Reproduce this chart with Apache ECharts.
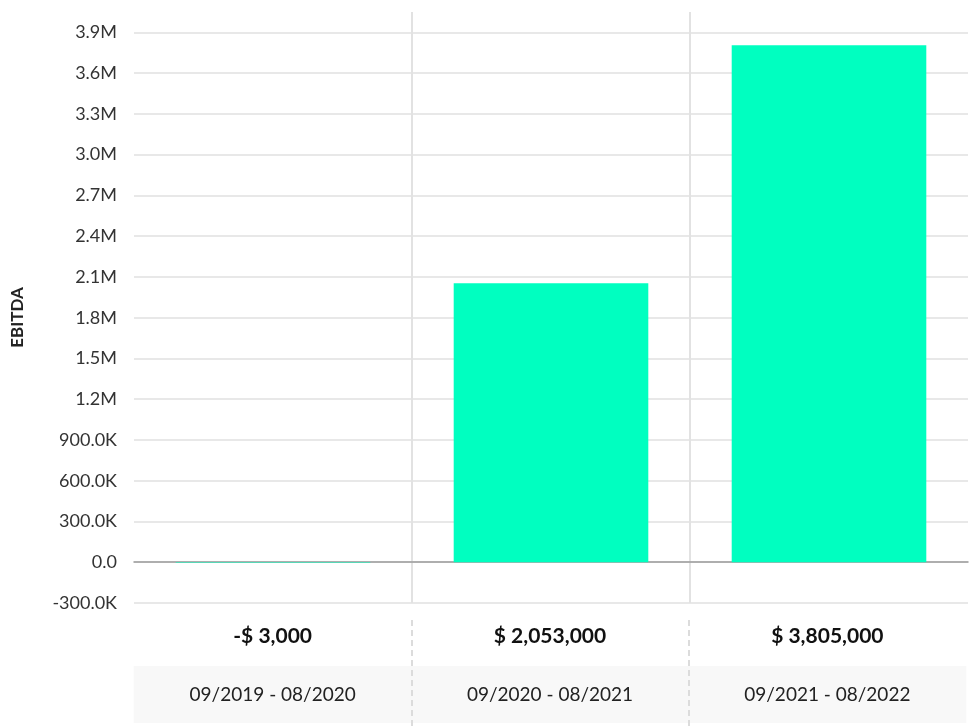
<!DOCTYPE html>
<html><head><meta charset="utf-8">
<script src="https://cdn.jsdelivr.net/npm/echarts@6/dist/echarts.min.js"></script>
<style>html,body{margin:0;padding:0;background:#fff}#c{width:969px;height:727px}</style>
</head><body><div id="c"></div>
<script>
const categories = ['09/2019 - 08/2020', '09/2020 - 08/2021', '09/2021 - 08/2022'];
const ebitda = [-3000, 2053000, 3805000];
const yMin = -300000, yMax = 4050000, yStep = 300000;

function fmtAxis(v) {
  if (v === 0) return '0.0';
  if (Math.abs(v) >= 1e6) return (v / 1e6).toFixed(1) + 'M';
  return (v / 1e3).toFixed(1) + 'K';
}
function fmtMoney(v) {
  const s = String(Math.abs(v)).replace(/\B(?=(\d{3})+(?!\d))/g, ',');
  return (v < 0 ? '-' : '') + '$ ' + s;
}
const FONT = 'Lato, "Noto Sans", sans-serif';
const chart = echarts.init(document.getElementById('c'));
chart.setOption({
  animation: false,
  textStyle: { fontFamily: FONT },
  grid: [
    { left: 134, right: 1, top: 12, bottom: 124 },
    { left: 134, right: 1, top: 620, bottom: 0 }
  ],
  xAxis: [
    {
      gridIndex: 0, type: 'category', data: categories,
      axisLine: { onZero: true, lineStyle: { color: '#9a9a9a', width: 1.5 } },
      axisTick: { show: false }, axisLabel: { show: false },
      splitLine: { show: true, showMinLine: false, showMaxLine: false, lineStyle: { color: '#e2e2e2', width: 2 } }
    },
    {
      gridIndex: 1, type: 'category', data: ebitda.map(fmtMoney), position: 'top', z: 5,
      axisLine: { show: false }, axisTick: { show: false },
      axisLabel: { inside: true, interval: 0, margin: 6, fontFamily: FONT, fontWeight: 'bold', fontSize: 21, color: '#111' },
      splitLine: { show: true, showMinLine: false, showMaxLine: false, lineStyle: { color: '#dcdcdc', width: 2, type: [6, 4] } }
    },
    {
      gridIndex: 1, type: 'category', data: categories, position: 'bottom', z: 1,
      axisLine: { show: false }, axisTick: { show: false },
      axisLabel: { inside: true, interval: 0, margin: 4, fontFamily: FONT, fontSize: 19, color: '#222',
        backgroundColor: '#f8f8f8', width: 278, height: 57, lineHeight: 57, align: 'center' },
      splitLine: { show: false }
    }
  ],
  yAxis: [
    {
      gridIndex: 0, type: 'value', min: yMin, max: yMax, interval: yStep,
      name: 'EBITDA', nameLocation: 'middle', nameGap: 108,
      nameTextStyle: { fontFamily: FONT, fontWeight: 'bold', fontSize: 17, color: '#222', padding: [0, 20, 0, 0] },
      axisLine: { show: false }, axisTick: { show: false },
      axisLabel: { formatter: fmtAxis, showMaxLabel: false, fontFamily: FONT, fontSize: 18, color: '#333', margin: 17 },
      splitLine: { show: true, showMaxLine: false, lineStyle: { color: '#e0e0e0', width: 1.5 } }
    },
    { gridIndex: 1, type: 'value', show: false }
  ],
  series: [
    {
      type: 'bar', xAxisIndex: 0, yAxisIndex: 0, data: ebitda,
      barWidth: '70%', itemStyle: { color: '#00ffc0' }
    }
  ]
});
</script></body></html>
